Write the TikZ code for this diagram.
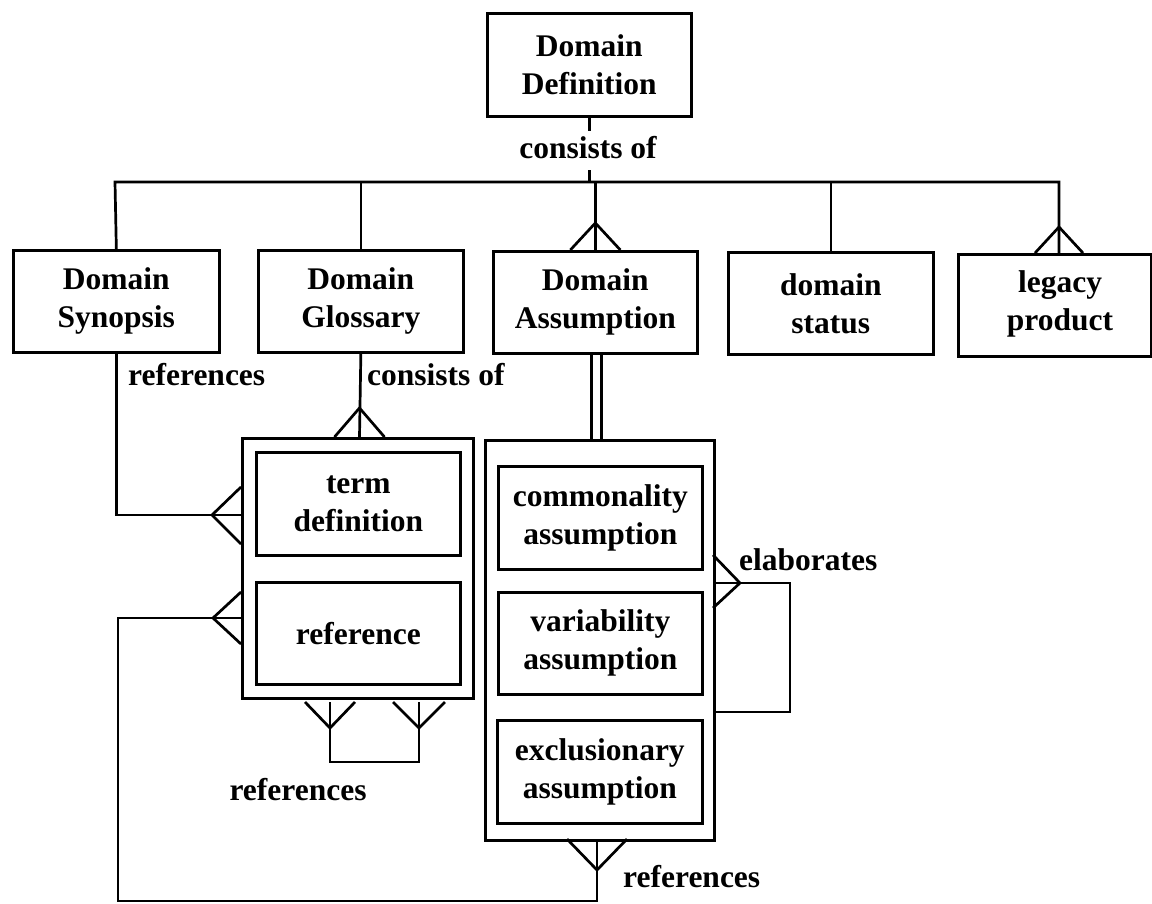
\documentclass[tikz,border=0pt]{standalone}
\usepackage{fontspec}
\setmainfont{Liberation Serif}
\usetikzlibrary{calc}
\newcommand\lblfont{\fontsize{31.5}{38}\selectfont\bfseries}
\tikzset{
  line/.style={line width=2.7pt, line join=miter},
  box/.style={draw, line width=2.7pt, anchor=north west, inner sep=0pt,
              align=center, font=\lblfont},
  tag/.style={inner sep=0pt, font=\lblfont},
}
% crow's foot: apex first, then the two feet
\newcommand\crowfoot[3]{\draw[line] (#2) -- (#1) -- (#3);}
\begin{document}
\begin{tikzpicture}[x=1pt,y=-1pt]
\useasboundingbox (0,0) rectangle (1152,903);

% ---- entities ----
\node[box, minimum width=204pt, minimum height=103pt] (dd) at (486,12) {Domain\\Definition};

\node[box, minimum width=206pt, minimum height=102pt] (syn) at (12,249) {Domain\\Synopsis};
\node[box, minimum width=205pt, minimum height=102pt] (glo) at (257,249) {Domain\\Glossary};
\node[box, minimum width=204pt, minimum height=102pt] (das) at (492,250) {Domain\\Assumption};
\node[box, minimum width=205pt, minimum height=102pt] (dst) at (727,251) {domain\\status};
\node[box, minimum width=193pt, minimum height=102pt] (leg) at (957,253) {};
\node[tag, align=center] (legT) at (1060,304) {legacy\\product};

% glossary aggregate
\node[box, minimum width=231pt, minimum height=260pt] (gout) at (241,437) {};
\node[box, minimum width=204pt, minimum height=103pt] (term) at (255,451) {term\\definition};
\node[box, minimum width=204pt, minimum height=102pt] (ref) at (255,581) {reference};

% assumption aggregate
\node[box, minimum width=229pt, minimum height=400pt] (aout) at (484,439) {};
\node[box, minimum width=204pt, minimum height=103pt] (com) at (497,465) {commonality\\assumption};
\node[box, minimum width=204pt, minimum height=102pt] (var) at (497,591) {variability\\assumption};
\node[box, minimum width=205pt, minimum height=103pt] (exc) at (496,719) {exclusionary\\assumption};

% ---- relationship labels ----
\node[tag] (cons1) at (588,148) {consists of};
\node[tag, anchor=west] (refs1) at (128,375) {references};
\node[tag, anchor=west] (cons2) at (367,375) {consists of};
\node[tag] (refs2) at (298,790) {references};
\node[tag, anchor=west] (elab) at (739,560) {elaborates};
\node[tag, anchor=west] (refs3) at (623,877) {references};

% ---- junction points ----
\coordinate (busL) at (115,182);
\coordinate (busR) at (1059,182);
\coordinate (legTop) at (1059,253);
\coordinate (gTop) at (359.5,437);
\coordinate (gW1) at (241,515);
\coordinate (gW2) at (241,618);
\coordinate (gB1) at (330,702);
\coordinate (gB2) at (419,702);
\coordinate (loopBL) at (118,901);
\coordinate (aB) at (597,839);
\coordinate (aE) at (713,583);
\coordinate (aE2) at (713,712);
\coordinate (eR) at (790,583);

% ---- domain definition consists of ----
\draw[line] (dd.south) -- ++(0,13);
\draw[line] (dd.south |- busL) -- ++(0,-12);
\draw[line] (syn.north) -- (busL) -- (busR) -- (legTop);
\draw[line] (glo.north) -- (glo.north |- busL);
\draw[line] (das.north) -- (das.north |- busL);
\draw[line] (dst.north) -- (dst.north |- busL);
\crowfoot{$(das.north)+(0,-27)$}{$(das.north)+(-25,0)$}{$(das.north)+(25,0)$}
\crowfoot{$(legTop)+(0,-26)$}{$(legTop)+(-24,0)$}{$(legTop)+(24,0)$}

% ---- glossary consists of ----
\draw[line] (glo.south) -- (gTop);
\crowfoot{$(gTop)+(0,-29)$}{$(gTop)+(-25,0)$}{$(gTop)+(25,0)$}

% ---- synopsis references term definition ----
\draw[line] (syn.south) -- (syn.south |- gW1) -- (gW1);
\crowfoot{$(gW1)+(-29,0)$}{$(gW1)+(0,-28)$}{$(gW1)+(0,29)$}

% ---- assumption references reference ----
\draw[line] (gW2) -- (gW2 -| loopBL) -- (loopBL) -- (loopBL -| aB) -- (aB);
\crowfoot{$(gW2)+(-28,0)$}{$(gW2)+(0,-26)$}{$(gW2)+(0,26)$}
\crowfoot{$(aB)+(0,31)$}{$(aB)+(-30,0)$}{$(aB)+(30,0)$}

% ---- glossary references itself ----
\draw[line] (gB1) -- ++(0,60) -| (gB2);
\crowfoot{$(gB1)+(0,26)$}{$(gB1)+(-25,0)$}{$(gB1)+(25,0)$}
\crowfoot{$(gB2)+(0,26)$}{$(gB2)+(-26,0)$}{$(gB2)+(26,0)$}

% ---- domain assumption is the aggregate ----
\draw[line] ($(das.south)+(-4,0)$) -- ($(das.south |- aout.north)+(-4,0)$);
\draw[line] ($(das.south)+(6,0)$) -- ($(das.south |- aout.north)+(6,0)$);

% ---- assumption elaborates ----
\draw[line] (aE) -- (eR) -- (eR |- aE2) -- (aE2);
\crowfoot{$(aE)+(27,0)$}{$(aE)+(0,-28)$}{$(aE)+(0,25)$}
\end{tikzpicture}
\end{document}
